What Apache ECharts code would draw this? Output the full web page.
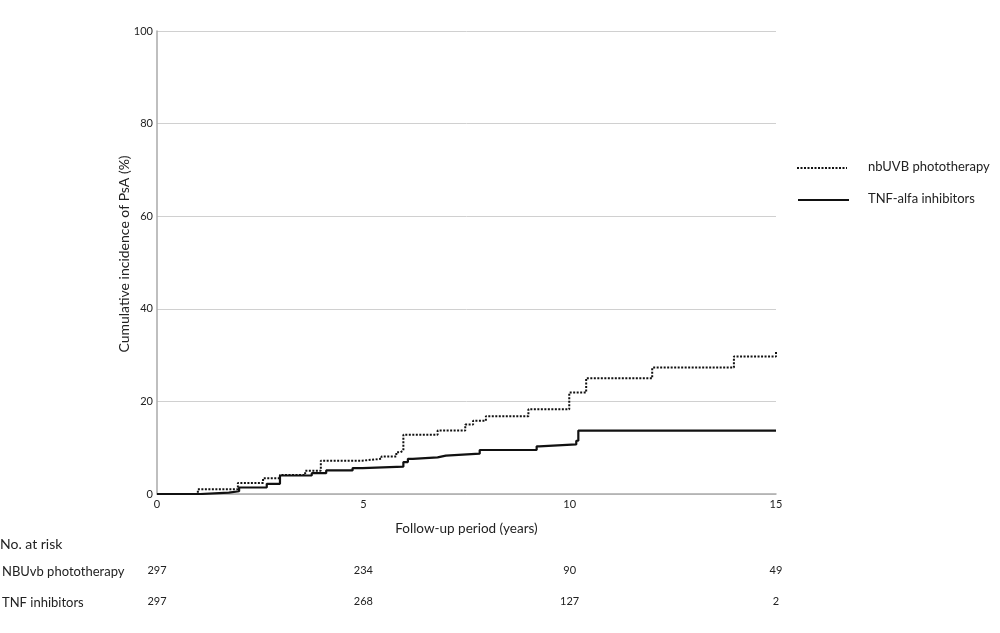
<!DOCTYPE html>
<html>
<head>
<meta charset="utf-8">
<script src="https://cdn.jsdelivr.net/npm/echarts@6/dist/echarts.min.js"></script>
<style>
html,body{margin:0;padding:0;background:#fff;}
#chart{width:1000px;height:633px;}
</style>
</head>
<body>
<div id="chart"></div>
<script>
var seriesNames = ['nbUVB phototherapy', 'TNF-alfa inhibitors'];
// [years, cumulative incidence %]
var nbuvbData = [[0,0],[0.99,1.0],[1.96,2.4],[2.57,3.4],[2.98,4.1],[3.59,5.0],[3.97,7.2],[4.97,7.6],[5.44,8.1],[5.8,9.0],[5.9,9.4],[5.97,12.8],[6.8,13.7],[7.47,15.0],[7.66,15.8],[7.97,16.8],[9.0,18.3],[9.99,21.9],[10.4,25.0],[12.0,27.3],[13.98,29.7],[15,31.0]];
var tnfData = [[0,0],[1.05,0.3],[1.74,0.6],[1.99,1.4],[2.66,2.2],[2.98,4.0],[3.75,4.5],[4.1,5.1],[4.74,5.6],[4.98,5.9],[5.97,6.9],[6.08,7.6],[6.2,7.9],[6.8,8.3],[7.0,8.7],[7.82,9.5],[9.2,10.3],[9.26,10.7],[10.16,11.5],[10.21,13.7],[15,13.7]];
var riskTimes = [0, 5, 10, 15];
var riskNbuvb = [297, 234, 90, 49];
var riskTnf = [297, 268, 127, 2];
var riskLabels = ['NBUvb phototherapy', 'TNF inhibitors'];
var yAxisTitle = 'Cumulative incidence of PsA (%)';
var xAxisTitle = 'Follow-up period (years)';

var FONT = 'Lato';
var chart = echarts.init(document.getElementById('chart'));

function riskFormatter(arr) {
  return function (v) {
    var i = riskTimes.indexOf(v);
    return i >= 0 ? String(arr[i]) : '';
  };
}
function riskAxis(gridIndex, arr) {
  return {
    type: 'value', gridIndex: gridIndex, min: 0, max: 15, interval: 5,
    axisLine: {show: false}, axisTick: {show: false}, splitLine: {show: false},
    axisLabel: {formatter: riskFormatter(arr), color: '#222', fontFamily: FONT, fontSize: 11, margin: 0}
  };
}
function hiddenY(gridIndex) {
  return {type: 'value', gridIndex: gridIndex, show: false, min: 0, max: 1};
}

var dotted = [2, 1.5];

chart.setOption({
  animation: false,
  backgroundColor: '#fff',
  textStyle: {fontFamily: FONT},
  grid: [
    {left: 157, right: 224, top: 31, bottom: 139},
    {left: 157, right: 224, top: 565, height: 0},
    {left: 157, right: 224, top: 596, height: 0}
  ],
  xAxis: [
    {
      type: 'value', gridIndex: 0, min: 0, max: 15, interval: 5,
      name: xAxisTitle, nameLocation: 'middle', nameGap: 28,
      nameTextStyle: {fontFamily: FONT, fontSize: 13.5, color: '#222'},
      axisLine: {show: true, lineStyle: {color: '#aaa', width: 1.5}},
      axisTick: {show: false},
      splitLine: {show: false},
      axisLabel: {color: '#222', fontFamily: FONT, fontSize: 11, margin: 5}
    },
    riskAxis(1, riskNbuvb),
    riskAxis(2, riskTnf)
  ],
  yAxis: [
    {
      type: 'value', gridIndex: 0, min: 0, max: 100, interval: 20,
      axisLine: {show: true, lineStyle: {color: '#aaa', width: 1.5}},
      axisTick: {show: false},
      splitLine: {show: true, lineStyle: {color: '#d0d0d0', width: 1}},
      axisLabel: {color: '#222', fontFamily: FONT, fontSize: 11, margin: 4}
    },
    hiddenY(1),
    hiddenY(2)
  ],
  series: [
    {
      name: seriesNames[0], type: 'line', step: 'end', data: nbuvbData,
      xAxisIndex: 0, yAxisIndex: 0, symbol: 'none', z: 3,
      lineStyle: {color: '#111', width: 2, type: dotted}
    },
    {
      name: seriesNames[1], type: 'line', step: 'end', data: tnfData,
      xAxisIndex: 0, yAxisIndex: 0, symbol: 'none', z: 4,
      lineStyle: {color: '#111', width: 2.2, type: 'solid'}
    }
  ],
  graphic: [
    {type: 'text', x: 124, y: 254, rotation: Math.PI / 2,
      style: {text: yAxisTitle, font: '14px Lato', fill: '#222', textAlign: 'center', textVerticalAlign: 'middle'}},
    {type: 'line', shape: {x1: 797, y1: 168, x2: 847, y2: 168}, style: {stroke: '#111', lineWidth: 2, lineDash: dotted}},
    {type: 'text', x: 868, y: 167, style: {text: seriesNames[0], font: '13px Lato', fill: '#222', textVerticalAlign: 'middle'}},
    {type: 'line', shape: {x1: 798, y1: 200, x2: 849, y2: 200}, style: {stroke: '#111', lineWidth: 2.2}},
    {type: 'text', x: 868, y: 199, style: {text: seriesNames[1], font: '13px Lato', fill: '#222', textVerticalAlign: 'middle'}},
    {type: 'text', left: 0, top: 537, style: {text: 'No. at risk', font: '14px Lato', fill: '#222'}},
    {type: 'text', left: 2, top: 565, style: {text: riskLabels[0], font: '13px Lato', fill: '#222'}},
    {type: 'text', left: 2, top: 596, style: {text: riskLabels[1], font: '13px Lato', fill: '#222'}}
  ]
});
</script>
</body>
</html>
